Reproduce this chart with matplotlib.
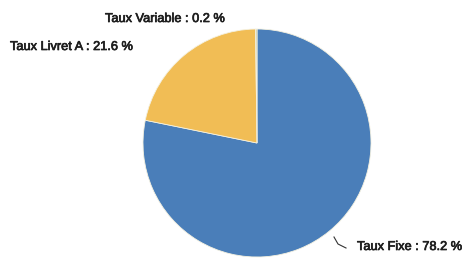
import numpy as np
import matplotlib.pyplot as plt
import matplotlib.patheffects as pe

labels = ['Taux Fixe', 'Taux Livret A', 'Taux Variable']
values = [78.2, 21.6, 0.2]
colors = ['#4a7eb9', '#f1bd55', '#c9c9a0']

plt.rcParams['font.family'] = ['Liberation Sans', 'DejaVu Sans']

fig = plt.figure(figsize=(4.77, 2.59), dpi=100)
ax = fig.add_axes([0, 0, 1, 1])

cx, cy, r = 257, 116, 114
wedges, _ = ax.pie(values, colors=colors, startangle=90, counterclock=False,
                   center=(cx, cy), radius=r, frame=True,
                   wedgeprops=dict(linewidth=0.6, edgecolor='#f4f1e0'))
ax.set_xlim(0, 477)
ax.set_ylim(0, 259)
ax.set_aspect('equal')
ax.axis('off')

txt = ['%s : %.1f %%' % (l, v) for l, v in zip(labels, values)]
fs = 9.2
tc = '#1e1e1e'
bold = [pe.withStroke(linewidth=0.5, foreground=tc)]
# Fixe label with leader line
ax.plot([334, 338, 346], [22, 15, 11], color='#333333', lw=0.8)
ax.text(357, 12, txt[0], fontsize=fs, va='center', ha='left', color=tc, path_effects=bold)
ax.text(10, 212, txt[1], fontsize=fs, va='center', ha='left', color=tc, path_effects=bold)
ax.text(105, 240, txt[2], fontsize=fs, va='center', ha='left', color=tc, path_effects=bold)

fig.savefig('out.png', dpi=100)
